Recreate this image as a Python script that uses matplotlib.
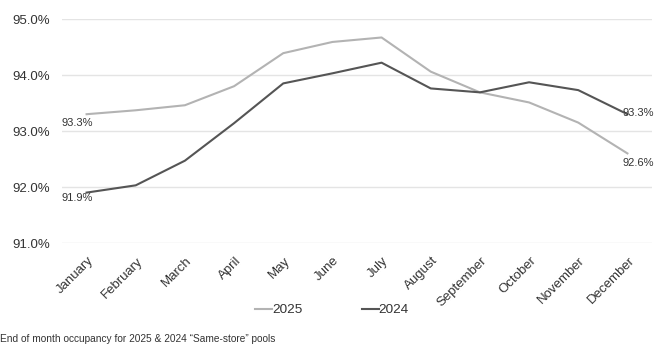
import matplotlib
matplotlib.use("Agg")
import matplotlib.pyplot as plt
import matplotlib.transforms as mtransforms
from matplotlib.ticker import FuncFormatter

months = ["January", "February", "March", "April", "May", "June", "July",
          "August", "September", "October", "November", "December"]
occ_2025 = [93.30, 93.37, 93.46, 93.80, 94.39, 94.59, 94.67, 94.06, 93.69, 93.51, 93.15, 92.60]
occ_2024 = [91.90, 92.03, 92.47, 93.14, 93.85, 94.03, 94.22, 93.76, 93.69, 93.87, 93.73, 93.30]
y_ticks = [91.0, 92.0, 93.0, 94.0, 95.0]
footnote = "End of month occupancy for 2025 & 2024 \u201cSame-store\u201d pools"

c25 = "#b3b3b3"
c24 = "#555555"
txt = "#333333"

plt.rcParams["font.family"] = ["Liberation Sans", "DejaVu Sans"]

W, H = 655, 349
fig = plt.figure(figsize=(W / 100, H / 100), dpi=100)
ax = fig.add_axes([62 / W, 1 - 243 / H, (652 - 62) / W, (243 - 19) / H])

x = list(range(len(months)))
ax.plot(x, occ_2025, color=c25, lw=1.5, label="2025", solid_joinstyle="round")
ax.plot(x, occ_2024, color=c24, lw=1.5, label="2024", solid_joinstyle="round")

ax.set_xlim(-0.5, len(months) - 0.5)
ax.set_ylim(y_ticks[0], y_ticks[-1])
ax.set_yticks(y_ticks)
ax.yaxis.set_major_formatter(FuncFormatter(lambda v, p: f"{v:.1f}%"))
ax.grid(axis="y", color="#e4e4e4", lw=1.0)
ax.set_axisbelow(True)
for s in ax.spines.values():
    s.set_visible(False)
ax.tick_params(axis="both", length=0, labelcolor=txt, labelsize=9.5)
ax.tick_params(axis="y", pad=8.6)
ax.tick_params(axis="x", pad=11.5)

ax.set_xticks(x)
ax.set_xticklabels(months, rotation=45, ha="right", va="center", rotation_mode="anchor")
shift = mtransforms.ScaledTranslation(5 / 100, 0, fig.dpi_scale_trans)
for lab in ax.get_xticklabels():
    lab.set_transform(lab.get_transform() + shift)

# end-point value labels
def lbl(i, vals, dx, dy):
    ax.annotate(f"{vals[i]:.1f}%", (i, vals[i]), xytext=(dx, dy),
                textcoords="offset pixels", ha="left", va="center",
                fontsize=8, color=txt, annotation_clip=False)

lbl(0, occ_2025, -25, -9)
lbl(0, occ_2024, -25, -5)
lbl(11, occ_2024, -5, 1)
lbl(11, occ_2025, -5, -10)

leg = fig.legend(loc="center", bbox_to_anchor=(332 / W, 1 - 310 / H), ncol=2,
                 frameon=False, fontsize=9.7, handlelength=1.25, handletextpad=0.0,
                 columnspacing=4.4, labelcolor=txt)

fig.text(0.0, 1 - 339 / H, footnote, fontsize=7.3, color=txt, ha="left", va="center")

fig.savefig("out.png", dpi=100, facecolor="white")
